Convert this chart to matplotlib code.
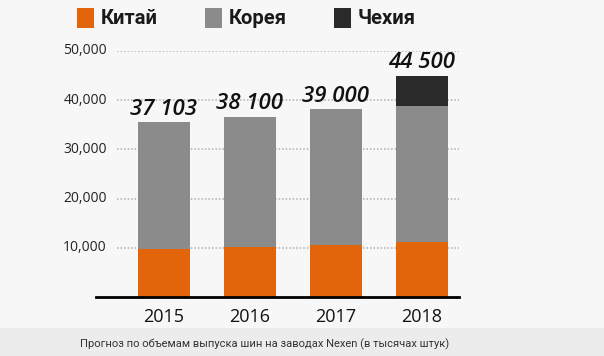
import matplotlib
matplotlib.use("Agg")
import matplotlib.pyplot as plt
from matplotlib import font_manager
from matplotlib.patches import Rectangle

years = ["2015", "2016", "2017", "2018"]
china = [9800, 10200, 10600, 11200]
korea = [25700, 26400, 27600, 27650]
czech = [0, 0, 0, 6100]
totals_labels = ["37 103", "38 100", "39 000", "44 500"]
yticks = [10000, 20000, 30000, 40000, 50000]
ytick_labels = ["10,000", "20,000", "30,000", "40,000", "50,000"]
series_names = ["Китай", "Корея", "Чехия"]
caption = "Прогноз по объемам выпуска шин на заводах Nexen (в тысячах штук)"

c_orange = "#e2650b"
c_gray = "#8b8b8b"
c_black = "#2a2a2a"
bg = "#f7f7f7"

names = {f.name for f in font_manager.fontManager.ttflist}
leg_font = "Liberation Sans Narrow" if "Liberation Sans Narrow" in names else "Roboto"
main_font = "Open Sans"

W, H = 604, 356
fig = plt.figure(figsize=(W / 100, H / 100), dpi=100, facecolor=bg)

# caption band
fig.patches.append(Rectangle((0, 0), 1, (H - 328) / H, transform=fig.transFigure,
                             facecolor="#ececec", edgecolor="none", zorder=0))
fig.text(265 / W, 1 - 344 / H, caption, ha="center", va="center",
         fontsize=8, family="Roboto", color="#333333")

ax = fig.add_axes([96 / W, 1 - 297 / H, (459 - 96) / W, (297 - 51) / H])
ax.set_facecolor("none")
ax.set_xlim(-0.79, 3.43)
ax.set_ylim(0, 50000)
for s in ax.spines.values():
    s.set_visible(False)
ax.set_xticks([])
ax.set_yticks([])

x = list(range(len(years)))
ax.hlines(yticks, -0.55, 3.43, colors="#b0b0b0", linestyles=(0, (1, 1.3)),
          linewidth=1.1, zorder=1)
ax.bar(x, china, width=0.605, color=c_orange, zorder=2)
ax.bar(x, korea, width=0.605, bottom=china, color=c_gray, zorder=2)
bottoms = [a + b for a, b in zip(china, korea)]
ax.bar(x, czech, width=0.605, bottom=bottoms, color=c_black, zorder=2)
ax.axhline(0, color="black", linewidth=2, zorder=3, clip_on=False)

for xi, b, c, lab in zip(x, bottoms, czech, totals_labels):
    ax.text(xi, b + c + 500, lab, ha="center", va="bottom", fontsize=16,
            fontweight="semibold", fontstyle="italic", family=main_font,
            color="#111111", clip_on=False)

for v, lab in zip(yticks, ytick_labels):
    ax.text(-0.665, v, lab, ha="right", va="center", fontsize=10,
            family=main_font, color="#222222", clip_on=False)

for xi, y in zip(x, years):
    ax.text(xi, -4000, y, ha="center", va="center", fontsize=13,
            family=main_font, color="#111111", clip_on=False)

# legend
leg_x = [77, 205, 334]
for lx, col, name in zip(leg_x, [c_orange, c_gray, c_black], series_names):
    fig.patches.append(Rectangle((lx / W, 1 - 28 / H), 17 / W, 20 / H,
                                 transform=fig.transFigure, facecolor=col,
                                 edgecolor="none"))
    fig.text((lx + 24) / W, 1 - 18 / H, name, ha="left", va="center",
             fontsize=14.5, fontweight="bold", family=leg_font, color="#1a1a1a")

fig.savefig("out.png", dpi=100, facecolor=bg)
